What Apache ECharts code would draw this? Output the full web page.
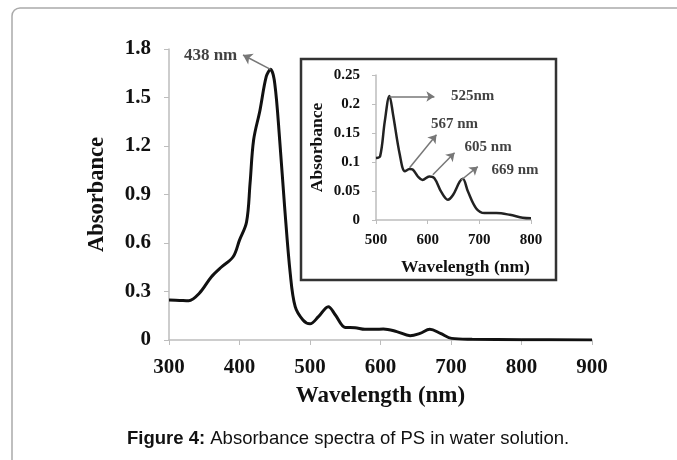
<!DOCTYPE html>
<html><head><meta charset="utf-8">
<script src="https://cdn.jsdelivr.net/npm/echarts@6/dist/echarts.min.js"></script>
<style>html,body{margin:0;padding:0;background:#fff}#c{width:677px;height:460px}</style>
</head><body><div id="c"></div>
<script>
// Main spectrum (300-900 nm)
const mainWavelength = [300,315,328,343,360,374,391,400,410,415,420,429,438,444,450,457,464,472,479,490,500,512,526,536,550,564,578,592,604,623,642,656,670,685,701,730,800,900];
const mainAbsorbance = [0.247,0.245,0.243,0.289,0.39,0.45,0.515,0.618,0.73,0.97,1.237,1.42,1.63,1.674,1.587,1.237,0.824,0.41,0.206,0.124,0.1,0.144,0.206,0.155,0.078,0.076,0.066,0.066,0.068,0.052,0.027,0.041,0.066,0.041,0.01,0.005,0.002,0.0];
const mainYTicks = ['0','0.3','0.6','0.9','1.2','1.5','1.8'];
const mainXTicks = ['300','400','500','600','700','800','900'];

// Inset spectrum (500-800 nm)
const insetWavelength = [500,508,517,526,533,546,556,565,571,581,590,603,613,626,639,649,662,668,678,694,710,733,759,784,800];
const insetAbsorbance = [0.107,0.11,0.17,0.214,0.182,0.113,0.084,0.088,0.087,0.075,0.069,0.075,0.072,0.049,0.035,0.043,0.066,0.071,0.049,0.02,0.012,0.012,0.009,0.004,0.003];
const insetYTicks = ['0','0.05','0.1','0.15','0.2','0.25'];
const insetXTicks = ['500','600','700','800'];

// Peak annotations: [arrow start, arrow end, label position, text] in data units
const mainPeakLabels = ['438 nm'];
const mainArrowFrom = [[444,1.674]];
const mainArrowTo = [[405,1.763]];
const mainLabelAt = [[359,1.76]];
const insetPeakLabels = ['525nm','567 nm','605 nm','669 nm'];
const insetArrowFrom = [[526,0.213],[565,0.09],[610,0.078],[665,0.069]];
const insetArrowTo = [[613,0.213],[617,0.147],[652,0.116],[697,0.092]];
const insetLabelAt = [[687,0.213],[652,0.166],[717,0.125],[769,0.0865]];

const zip = (a,b) => a.map((v,i)=>[v,b[i]]);
const serif = '"Liberation Serif","Times New Roman",serif';
const axisGrey = '#bdbdbd';

function arrows(from,to){
  return from.map((f,i)=>[{coord:f},{coord:to[i]}]);
}
function labels(at,txt){
  return at.map((p,i)=>[p[0],p[1],txt[i]]);
}

const chart = echarts.init(document.getElementById('c'));
chart.setOption({
  animation:false,
  backgroundColor:'#fff',
  grid:[
    {left:169,right:85,top:49,bottom:120},
    {left:376,right:146,top:75,bottom:240}
  ],
  xAxis:[
    {gridIndex:0,type:'value',min:300,max:900,interval:100,
     name:'Wavelength (nm)',nameLocation:'middle',nameGap:45,
     nameTextStyle:{fontFamily:serif,fontWeight:'bold',fontSize:23,color:'#111'},
     axisLine:{lineStyle:{color:axisGrey,width:1.5}},
     axisTick:{show:true,length:5,lineStyle:{color:axisGrey}},
     splitLine:{show:false},
     axisLabel:{margin:17,fontFamily:serif,fontWeight:'bold',fontSize:21,color:'#111',
       formatter:(v)=>mainXTicks[Math.round((v-300)/100)]}},
    {gridIndex:1,type:'value',min:500,max:800,interval:100,
     name:'Wavelength (nm)',nameLocation:'middle',nameGap:38,
     nameTextStyle:{fontFamily:serif,fontWeight:'bold',fontSize:17.5,color:'#111',padding:[0,0,0,24]},
     axisLine:{lineStyle:{color:axisGrey,width:1.5}},
     axisTick:{show:true,length:4,lineStyle:{color:axisGrey}},
     splitLine:{show:false},
     axisLabel:{margin:13,fontFamily:serif,fontWeight:'bold',fontSize:15,color:'#111',
       formatter:(v)=>insetXTicks[Math.round((v-500)/100)]}}
  ],
  yAxis:[
    {gridIndex:0,type:'value',min:0,max:1.8,interval:0.3,
     name:'Absorbance',nameLocation:'middle',nameGap:60,
     nameTextStyle:{fontFamily:serif,fontWeight:'bold',fontSize:22.5,color:'#111'},
     axisLine:{show:true,lineStyle:{color:axisGrey,width:1.5}},
     axisTick:{show:true,length:5,lineStyle:{color:axisGrey}},
     splitLine:{show:false},
     axisLabel:{margin:18,fontFamily:serif,fontWeight:'bold',fontSize:21,color:'#111',
       formatter:(v)=>mainYTicks[Math.round(v/0.3)]}},
    {gridIndex:1,type:'value',min:0,max:0.25,interval:0.05,
     name:'Absorbance',nameLocation:'middle',nameGap:50,
     nameTextStyle:{fontFamily:serif,fontWeight:'bold',fontSize:17.5,color:'#111'},
     axisLine:{show:true,lineStyle:{color:axisGrey,width:1.5}},
     axisTick:{show:true,length:4,lineStyle:{color:axisGrey}},
     splitLine:{show:false},
     axisLabel:{margin:16,fontFamily:serif,fontWeight:'bold',fontSize:15,color:'#111',
       formatter:(v)=>insetYTicks[Math.round(v/0.05)]}}
  ],
  graphic:[
    {type:'rect',z:-10,shape:{x:12,y:8,width:720,height:500,r:8},
     style:{fill:'none',stroke:'#aaaaaa',lineWidth:1.5}},
    {type:'rect',z:-5,shape:{x:301,y:59,width:255,height:221},
     style:{fill:'#fff',stroke:'#333',lineWidth:2.5}},
    {type:'text',left:127,top:429,
     style:{text:'{b|Figure 4:} Absorbance spectra of PS in water solution.',
       fontFamily:'"Liberation Sans",Arial,sans-serif',fontSize:18.5,fill:'#111',
       rich:{b:{fontWeight:'bold',fontFamily:'"Liberation Sans",Arial,sans-serif',fontSize:18.5,fill:'#111'}}}}
  ],
  series:[
    {type:'line',xAxisIndex:0,yAxisIndex:0,data:zip(mainWavelength,mainAbsorbance),
     smooth:0.35,showSymbol:false,lineStyle:{color:'#111',width:3},
     markLine:{silent:true,symbol:['none','arrow'],symbolSize:9,label:{show:false},
       lineStyle:{color:'#777',width:1.5,type:'solid'},data:arrows(mainArrowFrom,mainArrowTo)}},
    {type:'scatter',xAxisIndex:0,yAxisIndex:0,symbolSize:0,itemStyle:{color:'transparent'},
     data:labels(mainLabelAt,mainPeakLabels),
     label:{show:true,position:'inside',formatter:(p)=>p.value[2],
       fontFamily:serif,fontWeight:'bold',fontSize:17,color:'#111'}},
    {type:'line',xAxisIndex:1,yAxisIndex:1,data:zip(insetWavelength,insetAbsorbance),
     smooth:0.35,showSymbol:false,lineStyle:{color:'#222',width:2.5},
     markLine:{silent:true,symbol:['none','arrow'],symbolSize:8,label:{show:false},
       lineStyle:{color:'#777',width:1.5,type:'solid'},data:arrows(insetArrowFrom,insetArrowTo)}},
    {type:'scatter',xAxisIndex:1,yAxisIndex:1,symbolSize:0,itemStyle:{color:'transparent'},
     data:labels(insetLabelAt,insetPeakLabels),
     label:{show:true,position:'inside',formatter:(p)=>p.value[2],
       fontFamily:serif,fontWeight:'bold',fontSize:15,color:'#111'}}
  ]
});
</script></body></html>
